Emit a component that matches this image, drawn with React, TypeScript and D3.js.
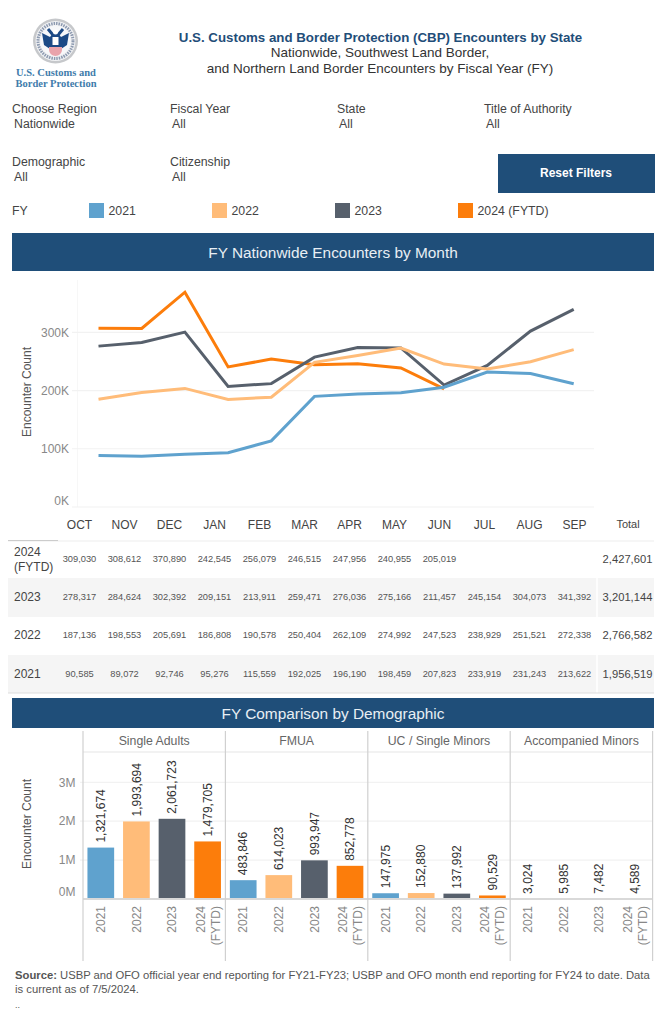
import * as d3 from "d3";

const months = ["OCT", "NOV", "DEC", "JAN", "FEB", "MAR", "APR", "MAY", "JUN", "JUL", "AUG", "SEP"];
const years = ["2021", "2022", "2023", "2024"];
const yearLabels = ["2021", "2022", "2023", "2024 (FYTD)"];
const yearColors = ["#5fa2ce", "#ffbc79", "#57606c", "#fc7d0b"];

const fy2021 = [90585, 89072, 92746, 95276, 115559, 192025, 196190, 198459, 207823, 233919, 231243, 213622];
const fy2022 = [187136, 198553, 205691, 186808, 190578, 250404, 262109, 274992, 247523, 238929, 251521, 272338];
const fy2023 = [278317, 284624, 302392, 209151, 213911, 259471, 276036, 275166, 211457, 245154, 304073, 341392];
const fy2024 = [309030, 308612, 370890, 242545, 256079, 246515, 247956, 240955, 205019, null, null, null];

const totals = { "2021": "1,956,519", "2022": "2,766,582", "2023": "3,201,144", "2024": "2,427,601" };

const demographics = ["Single Adults", "FMUA", "UC / Single Minors", "Accompanied Minors"];
const singleAdults = [1321674, 1993694, 2061723, 1479705];
const fmua = [483846, 614023, 993947, 852778];
const ucMinors = [147975, 152880, 137992, 90529];
const accompanied = [3024, 5985, 7482, 4589];

const lineTicks = [0, 100000, 200000, 300000];
const barTicks = [0, 1000000, 2000000, 3000000];

const filtersRow1 = [["Choose Region", "Nationwide"], ["Fiscal Year", "All"], ["State", "All"], ["Title of Authority", "All"]];
const filtersRow2 = [["Demographic", "All"], ["Citizenship", "All"]];

const navy = "#1f4e79";
const grayText = "#555";
const axisText = "#888";
const font = "'Liberation Sans', Arial, sans-serif";

const seriesByYear = [fy2021, fy2022, fy2023, fy2024];
const demoValues = [singleAdults, fmua, ucMinors, accompanied];
const fmt = d3.format(",");

function Banner({ y, h, label }: { y: number; h: number; label: string }) {
  return (
    <g>
      <rect x={12} y={y} width={642} height={h} fill={navy} />
      <text x={333} y={y + h / 2 + 1} dy="0.35em" textAnchor="middle" fontSize={15.4} fill="#e8eef4">
        {label}
      </text>
    </g>
  );
}

function Logo() {
  return (
    <g>
      <circle cx={55.5} cy={41} r={22.5} fill="#c6c8cb" />
      <circle cx={55.5} cy={41} r={20} fill="#f1f2f4" />
      <circle cx={55.5} cy={41} r={17.5} fill="none" stroke="#8d9ab0" strokeWidth={3} strokeDasharray="1.5 1" />
      <circle cx={55.5} cy={41} r={15} fill="#f7f8fa" />
      <path d="M42 33 L50 37 L53 33 L58 33 L61 37 L69 33 L67 45 L61 49 L50 49 L44 45 Z" fill="#1c4a86" />
      <path d="M49 47 H62 V50 A6.5 6 0 0 1 49 50 Z" fill="#e9a3ab" />
      <path d="M48 29 L53 35 M63 29 L58 35" stroke="#1c4a86" strokeWidth={3} />
      <circle cx={55.5} cy={32} r={2.5} fill="#fff" />
      <rect x={52.5} y={37} width={6} height={8} fill="#fff" />
      <text x={56} y={76} textAnchor="middle" fontFamily="'Liberation Serif', serif" fontWeight="bold" fontSize={10.5} fill="#3f7cab">
        U.S. Customs and
      </text>
      <text x={56} y={87} textAnchor="middle" fontFamily="'Liberation Serif', serif" fontWeight="bold" fontSize={10.5} fill="#3f7cab">
        Border Protection
      </text>
    </g>
  );
}

function Header() {
  const filterX = d3.scaleOrdinal<number, number>().domain([0, 1, 2, 3]).range([12, 170, 337, 484]);
  const legendX = d3.scaleLinear().domain([0, 3]).range([89, 458]);
  const filter = (f: string[], i: number, y: number) => (
    <g key={f[0]} fontSize={12.3} fill="#444">
      <text x={filterX(i)} y={y}>{f[0]}</text>
      <text x={filterX(i) + 2} y={y + 15}>{f[1]}</text>
    </g>
  );
  return (
    <g>
      <Logo />
      <text x={380.5} y={41.5} textAnchor="middle" fontSize={13.3} fontWeight="bold" fill={navy}>
        U.S. Customs and Border Protection (CBP) Encounters by State
      </text>
      <text x={380} y={57} textAnchor="middle" fontSize={13.5} fill="#333">Nationwide, Southwest Land Border,</text>
      <text x={380} y={73} textAnchor="middle" fontSize={13.5} fill="#333">and Northern Land Border Encounters by Fiscal Year (FY)</text>
      {filtersRow1.map((f, i) => filter(f, i, 113))}
      {filtersRow2.map((f, i) => filter(f, i, 166))}
      <rect x={498} y={154} width={157} height={39} fill={navy} />
      <text x={576} y={173} dy="0.35em" textAnchor="middle" fontSize={12} fontWeight="bold" fill="#fff">Reset Filters</text>
      <text x={12} y={215} fontSize={12.3} fill="#444">FY</text>
      {yearLabels.map((label, i) => (
        <g key={label}>
          <rect x={legendX(i)} y={203} width={15} height={15} fill={yearColors[i]} />
          <text x={legendX(i) + 19.5} y={215} fontSize={12.3} fill="#444">{label}</text>
        </g>
      ))}
    </g>
  );
}

function LineChart() {
  const x = d3.scalePoint().domain(months).range([98.5, 573.7]);
  const y = d3.scaleLinear().domain([0, 300000]).range([507, 332.3]);
  const line = d3
    .line<number | null>()
    .defined((d) => d !== null)
    .x((_, i) => x(months[i]) as number)
    .y((d) => y(d as number));
  const order = [3, 2, 1, 0];
  return (
    <g>
      <line x1={77.5} x2={77.5} y1={280} y2={507} stroke="#f7f7f7" />
      {lineTicks.map((t) => (
        <g key={t}>
          <line x1={72} x2={594} y1={y(t)} y2={y(t)} stroke="#f2f2f2" strokeWidth={1.2} />
          <text x={69} y={y(t) - (t === 0 ? 6 : 0)} dy="0.35em" textAnchor="end" fontSize={12} fill={axisText}>
            {d3.format(".0f")(t / 1000)}K
          </text>
        </g>
      ))}
      <text transform="translate(27,392) rotate(-90)" dy="0.35em" textAnchor="middle" fontSize={12} fill={grayText}>
        Encounter Count
      </text>
      <g transform="translate(0,1.2)">
        {order.map((k) => (
          <path key={years[k]} d={line(seriesByYear[k]) as string} fill="none" stroke={yearColors[k]} strokeWidth={3} />
        ))}
      </g>
    </g>
  );
}

function MonthTable() {
  const x = d3.scalePoint().domain(months).range([79.5, 574.5]);
  const rows = [
    { year: "2024", y: 559, top: 541, bottom: 578 },
    { year: "2023", y: 597, top: 578, bottom: 617 },
    { year: "2022", y: 635, top: 617, bottom: 655 },
    { year: "2021", y: 674, top: 655, bottom: 693 },
  ];
  return (
    <g>
      {months.map((m) => (
        <text key={m} x={x(m)} y={525} dy="0.35em" textAnchor="middle" fontSize={12} fill="#444">{m}</text>
      ))}
      <text x={628} y={524} dy="0.35em" textAnchor="middle" fontSize={11} fill="#444">Total</text>
      {rows.map((r, ri) => {
        const values = seriesByYear[years.indexOf(r.year)];
        return (
          <g key={r.year}>
            {ri % 2 === 1 && <rect x={8} y={r.top} width={646} height={r.bottom - r.top} fill="#f5f5f5" />}
            {ri === 0 ? (
              <text fontSize={12} fill="#444">
                <tspan x={14} y={556}>2024</tspan>
                <tspan x={14} y={571}>(FYTD)</tspan>
              </text>
            ) : (
              <text x={14} y={r.y} dy="0.35em" fontSize={12} fill="#444">{r.year}</text>
            )}
            {values.map((v, i) =>
              v === null ? null : (
                <text key={i} x={x(months[i])} y={r.y} dy="0.35em" textAnchor="middle" fontSize={9.3} fill="#555">
                  {fmt(v)}
                </text>
              )
            )}
            <text x={627.5} y={r.y} dy="0.35em" textAnchor="middle" fontSize={11.2} fill="#444">
              {totals[r.year as keyof typeof totals]}
            </text>
          </g>
        );
      })}
      <line x1={597} x2={597} y1={541} y2={693} stroke="#fff" strokeWidth={1.5} />
      <line x1={8} x2={654} y1={541} y2={541} stroke="#eee" strokeWidth={1.2} />
      <line x1={8} x2={58} y1={540.5} y2={540.5} stroke="#ccc" />
      <line x1={8} x2={654} y1={693} y2={693} stroke="#ddd" strokeWidth={1.2} />
    </g>
  );
}

function BarPanels() {
  const px = d3.scaleBand().domain(demographics).range([83, 652.6]);
  const bx = d3.scaleBand().domain(years).range([0, px.bandwidth()]).paddingInner(0.25).paddingOuter(0.125);
  const y = d3.scaleLinear().domain([0, 3000000]).range([899, 782.3]);
  return (
    <g>
      {barTicks.slice(1).map((t) => (
        <line key={t} x1={80} x2={652} y1={y(t)} y2={y(t)} stroke="#f2f2f2" strokeWidth={1.2} />
      ))}
      {barTicks.map((t) => (
        <text key={t} x={75.5} y={y(t) - (t === 0 ? 7 : 0)} dy="0.35em" textAnchor="end" fontSize={12} fill={axisText}>
          {t / 1000000}M
        </text>
      ))}
      <text transform="translate(27,824) rotate(-90)" dy="0.35em" textAnchor="middle" fontSize={12} fill={grayText}>
        Encounter Count
      </text>
      <line x1={83} x2={652} y1={752} y2={752} stroke="#e6e6e6" strokeWidth={1.2} />
      {demographics.map((name, p) => {
        const left = px(name) as number;
        return (
          <g key={name}>
            <text x={left + px.bandwidth() / 2} y={741} dy="0.35em" textAnchor="middle" fontSize={12.3} fill="#666">{name}</text>
            {years.map((yr, i) => {
              const v = demoValues[p][i];
              const cx = left + (bx(yr) as number) + bx.bandwidth() / 2;
              return (
                <g key={yr}>
                  <rect x={cx - bx.bandwidth() / 2} y={y(v)} width={bx.bandwidth()} height={899 - y(v)} fill={yearColors[i]} />
                  <text transform={`translate(${cx},${y(v) - 5}) rotate(-90)`} dy="0.35em" fontSize={12} fill="#333">
                    {fmt(v)}
                  </text>
                  {yr === "2024" ? (
                    <text transform={`translate(${cx},906) rotate(-90)`} textAnchor="end" fontSize={12} fill={axisText}>
                      <tspan x={0} y={-3}>2024</tspan>
                      <tspan x={0} y={12}>(FYTD)</tspan>
                    </text>
                  ) : (
                    <text transform={`translate(${cx},906) rotate(-90)`} dy="0.35em" textAnchor="end" fontSize={12} fill={axisText}>
                      {yr}
                    </text>
                  )}
                </g>
              );
            })}
          </g>
        );
      })}
      <line x1={83} x2={652.6} y1={899} y2={899} stroke="#d9d9d9" strokeWidth={2} />
      {[...demographics.map((d) => px(d) as number), 652.6].map((vx) => (
        <line key={vx} x1={vx} x2={vx} y1={731} y2={961} stroke="#d0d0d0" strokeWidth={1.2} />
      ))}
    </g>
  );
}

export default function App() {
  return (
    <svg
      width={666}
      height={1024}
      fontFamily={font}
      style={{ position: "absolute", top: 0, left: 0, background: "#fff" }}
    >
      <Header />
      <Banner y={233} h={38} label="FY Nationwide Encounters by Month" />
      <LineChart />
      <MonthTable />
      <Banner y={698} h={30} label="FY Comparison by Demographic" />
      <BarPanels />
      <text x={15} y={979} fontSize={11.25} fill={grayText}>
        <tspan fontWeight="bold">Source:</tspan> USBP and OFO official year end reporting for FY21-FY23; USBP and OFO month end reporting for FY24 to date. Data
      </text>
      <text x={15} y={993} fontSize={11.25} fill={grayText}>is current as of 7/5/2024.</text>
      <text x={15} y={1008} fontSize={9} fill={grayText}>..</text>
    </svg>
  );
}
